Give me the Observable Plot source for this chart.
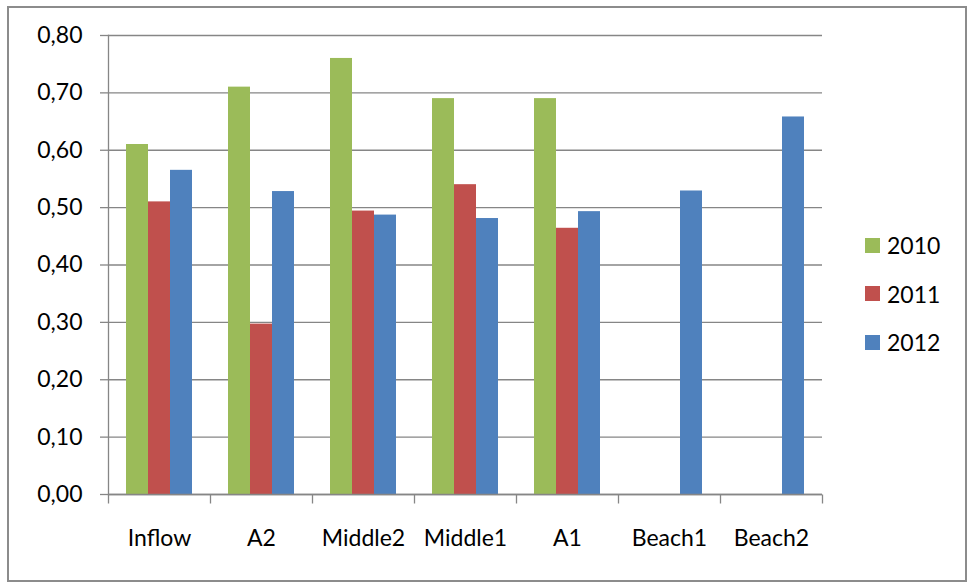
<!DOCTYPE html>
<html>
<head>
<meta charset="utf-8">
<script src="https://cdn.jsdelivr.net/npm/d3@7"></script>
<script src="https://cdn.jsdelivr.net/npm/@observablehq/plot@0.6"></script>
<style>
  html, body { margin: 0; padding: 0; background: #fff; }
  #wrap { position: relative; width: 969px; height: 583px; font-family: Lato, "Open Sans", sans-serif; }
  #border { position: absolute; left: 7px; top: 6px; width: 960px; height: 576px; box-sizing: border-box; border: 2px solid #8c8c8c; pointer-events: none; }
  #legend { position: absolute; left: 865px; top: 221px; }
  .item { display: flex; align-items: center; height: 48.5px; font-size: 23px; color: #000; }
  .sw { width: 15px; height: 15px; margin-right: 7px; }
</style>
</head>
<body>
<div id="wrap">
  <div id="chart"></div>
  <div id="border"></div>
  <div id="legend"></div>
</div>
<script>
const sites = ["Inflow", "A2", "Middle2", "Middle1", "A1", "Beach1", "Beach2"];
const years = ["2010", "2011", "2012"];
const v2010 = [0.61, 0.71, 0.76, 0.69, 0.69, null, null];
const v2011 = [0.51, 0.297, 0.494, 0.54, 0.464, null, null];
const v2012 = [0.565, 0.528, 0.487, 0.481, 0.493, 0.529, 0.658];
const yTicks = [0, 0.1, 0.2, 0.3, 0.4, 0.5, 0.6, 0.7, 0.8];
const colors = ["#9BBB59", "#C0504D", "#4F81BD"];

const series = [v2010, v2011, v2012];
const data = [];
sites.forEach((s, i) => {
  years.forEach((y, j) => {
    const v = series[j][i];
    if (v != null) data.push({site: s, year: y, value: v});
  });
});

const axisColor = "#868686";
const tickSym = {draw(context) { context.moveTo(0, 0); context.lineTo(0, 9); }};
const fmt = d => d.toFixed(2).replace(".", ",");

const chart = Plot.plot({
  width: 969,
  height: 583,
  marginLeft: 108,
  marginRight: 147,
  marginTop: 35,
  marginBottom: 89,
  style: {fontFamily: "Lato, 'Open Sans', sans-serif", fontSize: "23px", color: "#000", background: "transparent"},
  fx: {domain: sites, padding: 0, label: null},
  x: {domain: years, paddingInner: 0, paddingOuter: 0.75, axis: null},
  y: {domain: [0, 0.8], label: null},
  color: {domain: years, range: colors},
  marks: [
    Plot.gridY(yTicks, {stroke: axisColor, strokeOpacity: 1, strokeWidth: 1.3}),
    Plot.barY(data, {fx: "site", x: "year", y: "value", fill: "year"}),
    Plot.ruleY([0], {stroke: axisColor, strokeWidth: 1.3}),
    Plot.frame({anchor: "left", facetAnchor: "left", stroke: axisColor, strokeWidth: 1.3}),
    Plot.axisY(yTicks, {tickSize: 8, tickPadding: 18, tickFormat: fmt, fontSize: 23, stroke: axisColor, strokeWidth: 1.3, fill: "#000", label: null}),
    Plot.dot(sites, {fx: d => d, frameAnchor: "bottom-left", symbol: tickSym, stroke: axisColor, strokeWidth: 1.3, fill: "none"}),
    Plot.dot([sites[sites.length - 1]], {fx: d => d, frameAnchor: "bottom-right", symbol: tickSym, stroke: axisColor, strokeWidth: 1.3, fill: "none"}),
    Plot.axisFx({anchor: "bottom", tickSize: 0, tickPadding: 35, fontSize: 23, fill: "#000", label: null})
  ]
});
document.getElementById("chart").appendChild(chart);

const legend = document.getElementById("legend");
years.forEach((y, j) => {
  const it = document.createElement("div");
  it.className = "item";
  const sw = document.createElement("div");
  sw.className = "sw";
  sw.style.background = colors[j];
  const t = document.createElement("span");
  t.textContent = y;
  it.appendChild(sw);
  it.appendChild(t);
  legend.appendChild(it);
});
</script>
</body>
</html>
